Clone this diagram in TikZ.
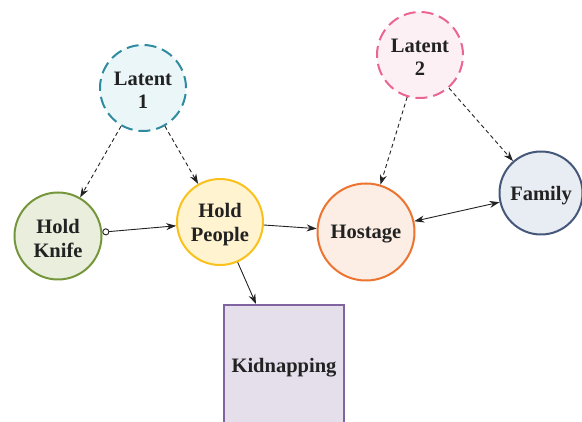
\documentclass[tikz,border=0pt]{standalone}
\usepackage{fontspec}
\setmainfont{Liberation Serif}
\usetikzlibrary{arrows.meta}
\definecolor{latAline}{HTML}{2E8BA0}
\definecolor{latAfill}{HTML}{EAF6F8}
\definecolor{latBline}{HTML}{EA6494}
\definecolor{latBfill}{HTML}{FDF0F5}
\definecolor{knifeline}{HTML}{76963C}
\definecolor{knifefill}{HTML}{E9EEDD}
\definecolor{peopleline}{HTML}{F8C11C}
\definecolor{peoplefill}{HTML}{FFF3D0}
\definecolor{hostline}{HTML}{EC7430}
\definecolor{hostfill}{HTML}{FCEEE5}
\definecolor{famline}{HTML}{46587A}
\definecolor{famfill}{HTML}{E8ECF3}
\definecolor{kidline}{HTML}{8064A2}
\definecolor{kidfill}{HTML}{E5DFEC}
\definecolor{ink}{HTML}{222222}
\tikzset{
  labelfont/.style={font=\fontsize{20.5}{23.5}\selectfont\bfseries},
  var/.style={circle, line width=2pt, inner sep=0pt},
  caption/.style={label={[labelfont, align=center, text=ink, yshift=-2.5pt]center:#1}},
  latent/.style={var, dash pattern=on 12pt off 6pt},
  link/.style={draw=ink, line width=0.9pt, -{Stealth[length=10pt,width=7pt]}},
  hidden/.style={link, dash pattern=on 4pt off 3pt},
}
\begin{document}
\begin{tikzpicture}[x=1pt,y=-1pt]
  \useasboundingbox (0,0) rectangle (582,422);
  \clip (0,0) rectangle (582,422);

  % causal variables
  \node[latent, draw=latAline, fill=latAfill, minimum size=86pt, caption={Latent\\1}] (lat1) at (143,88) {};
  \node[latent, draw=latBline, fill=latBfill, minimum size=86pt, caption={Latent\\2}] (lat2) at (420,55) {};
  \node[var, draw=knifeline, fill=knifefill, minimum size=87pt, caption={Hold\\Knife}] (knife) at (58,236) {};
  \node[var, draw=peopleline, fill=peoplefill, minimum size=86pt, caption={Hold\\People}] (people) at (220,222) {};
  \node[var, draw=hostline, fill=hostfill, minimum size=97pt, caption={Hostage}] (host) at (366,232) {};
  \node[var, draw=famline, fill=famfill, minimum size=83pt, caption={Family}] (fam) at (541,193) {};
  \node[draw=kidline, fill=kidfill, line width=2pt, rectangle, minimum width=120pt,
        minimum height=126pt, inner sep=0pt, text=ink, labelfont] (kid) at (284,368) {Kidnapping};

  % latent influences
  \draw[hidden] (lat1) -- (knife);
  \draw[hidden] (lat1) -- (people);
  \draw[hidden] (lat2) -- (host);
  \draw[hidden] (lat2) -- (fam);

  % observed relations
  \draw[link, {Circle[open,length=7pt,width=7pt]}-{Stealth[length=10pt,width=7pt]}] (knife) -- (people);
  \draw[link] (people) -- (host);
  \draw[link, {Stealth[length=10pt,width=7pt]}-{Stealth[length=10pt,width=7pt]}] (host) -- (fam);
  \draw[link] (people) -- (kid);
\end{tikzpicture}
\end{document}
